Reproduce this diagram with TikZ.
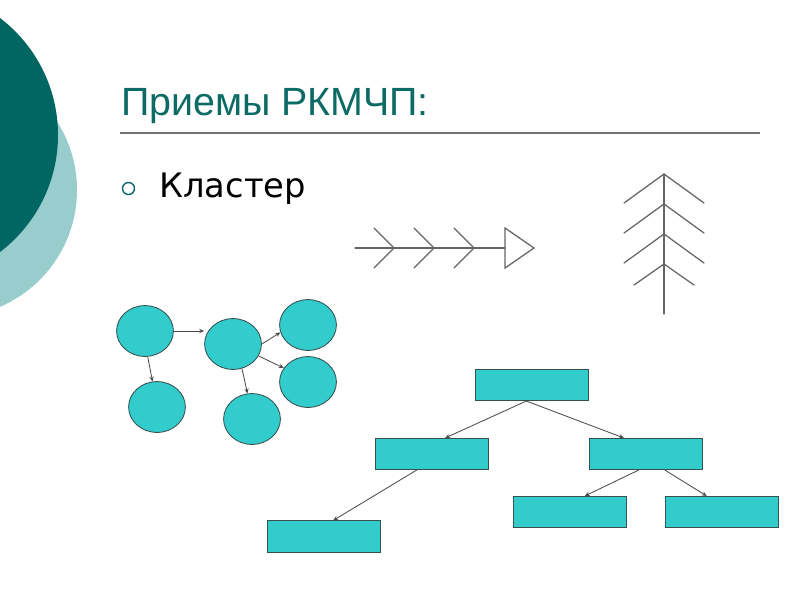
\documentclass[tikz,border=0pt]{standalone}
\usepackage{fontspec}
\setmainfont{Liberation Sans}
\newfontfamily\bodyfont{DejaVu Sans}
\usetikzlibrary{shapes.geometric,arrows.meta,calc}
\definecolor{darkteal}{RGB}{0,102,97}
\definecolor{paleteal}{RGB}{153,204,204}
\definecolor{titleteal}{RGB}{13,107,102}
\definecolor{boxfill}{RGB}{51,204,204}
\definecolor{edgegray}{RGB}{55,80,80}

\begin{document}
\begin{tikzpicture}[x=0.025cm, y=-0.025cm,
    blob/.style={ellipse, draw=edgegray, fill=boxfill, line width=0.6pt, minimum width=1.42cm, minimum height=1.27cm, inner sep=0pt},
    box/.style={rectangle, draw=edgegray, fill=boxfill, line width=0.6pt, minimum width=2.82cm, minimum height=0.78cm, inner sep=0pt},
    link/.style={-{Stealth[length=3.5pt,width=3pt]}, line width=0.6pt, draw=black!70},
    sketch/.style={line width=0.9pt, draw=black!60, line cap=round}]
    \useasboundingbox (0,0) rectangle (800,600);
    \begin{scope}
        \clip (0,0) rectangle (800,600);
        \fill[paleteal] (-50,190) circle (127);
        \fill[darkteal] (-89,135) circle (147);
    \end{scope}

    % heading
    \node[anchor=base west, inner sep=0pt, text=titleteal, font=\fontsize{28}{32}\selectfont] (title) at (121,115) {Приемы РКМЧП:};
    \draw[black!55, line width=1pt] (120,133) -- (760,133);
    \draw[titleteal, line width=1pt] (128.5,188.5) circle (6);
    \node[anchor=base west, inner sep=0pt, font=\bodyfont\fontsize{24}{29}\selectfont] (item) at (159,197) {Кластер};

    % fishbone
    \draw[sketch] (355,248) -- (505,248);
    \foreach \x in {394,434,474}
        \draw[sketch] (\x-20,228) -- (\x,248) -- (\x-20,268);
    \draw[sketch] (505,228) -- (534,248) -- (505,268) -- cycle;

    % fir tree
    \draw[sketch] (664,174) -- (664,314);
    \foreach \y in {174,204,234}
        \draw[sketch] (624,\y+29) -- (664,\y) -- (704,\y+29);
    \draw[sketch] (634,285) -- (664,264) -- (694,285);

    % cluster
    \node[blob] (A) at (145,331) {};
    \node[blob] (B) at (157,407) {};
    \node[blob] (C) at (233,344) {};
    \node[blob] (D) at (308,325) {};
    \node[blob] (E) at (308,382) {};
    \node[blob] (F) at (252,419) {};
    \draw[link] (A.east) -- (A.east -| C.west);
    \draw[link] (A.-84) -- (B.100);
    \draw[link] (C.east) -- (D.195);
    \draw[link] (C.-25) -- (E.150);
    \draw[link] (C.-70) -- (F.100);

    % hierarchy
    \node[box] (R0) at (532,385) {};
    \node[box] (R1) at (431.5,454) {};
    \node[box] (R2) at (645.5,454) {};
    \node[box] (R3) at (324,536.5) {};
    \node[box] (R4) at (570,512) {};
    \node[box] (R5) at (721.5,512) {};
    \draw[link] ($(R0.south west)!.45!(R0.south east)$) -- ($(R1.north west)!.62!(R1.north east)$);
    \draw[link] ($(R0.south west)!.45!(R0.south east)$) -- ($(R2.north west)!.31!(R2.north east)$);
    \draw[link] ($(R1.south west)!.37!(R1.south east)$) -- ($(R3.north west)!.58!(R3.north east)$);
    \draw[link] ($(R2.south west)!.44!(R2.south east)$) -- ($(R4.north west)!.63!(R4.north east)$);
    \draw[link] ($(R2.south west)!.67!(R2.south east)$) -- ($(R5.north west)!.37!(R5.north east)$);
\end{tikzpicture}
\end{document}
